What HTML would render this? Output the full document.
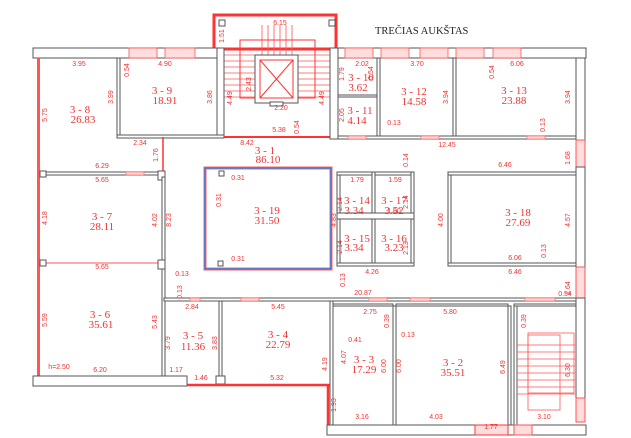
<!DOCTYPE html>
<html><head><meta charset="utf-8"><style>
html,body{margin:0;padding:0;background:#fff;width:631px;height:438px;overflow:hidden}
svg{display:block}
.w{fill:#fff;stroke:#555;stroke-width:1}
.r{stroke:#f33;fill:none;stroke-width:1}
.rt{fill:#e33;font-family:"Liberation Sans",sans-serif;font-size:7px;text-anchor:middle}
.nm{fill:#e33;font-family:"Liberation Serif",serif;font-size:11px;text-anchor:middle}
</style></head><body>
<svg width="631" height="438" viewBox="0 0 631 438" xmlns="http://www.w3.org/2000/svg">
<text x="375" y="34" font-family="Liberation Serif,serif" font-size="10.5" fill="#222">TREČIAS AUKŠTAS</text>

<rect x="214" y="15" width="122" height="34" fill="none" stroke="#f33" stroke-width="3"/>
<rect x="219" y="20" width="6" height="6" class="w"/><rect x="329" y="20" width="6" height="6" class="w"/>
<g stroke="#f55" stroke-width="0.8">
<line x1="262" y1="25" x2="262" y2="55"/><line x1="268" y1="25" x2="268" y2="55"/><line x1="274" y1="25" x2="274" y2="55"/><line x1="280" y1="25" x2="280" y2="55"/><line x1="286" y1="25" x2="286" y2="55"/><line x1="292" y1="25" x2="292" y2="55"/>
<line x1="224" y1="55" x2="255" y2="55"/><line x1="224" y1="61" x2="255" y2="61"/><line x1="224" y1="67" x2="255" y2="67"/><line x1="224" y1="73" x2="255" y2="73"/><line x1="224" y1="79" x2="255" y2="79"/><line x1="224" y1="85" x2="255" y2="85"/><line x1="224" y1="91" x2="255" y2="91"/><line x1="224" y1="97" x2="255" y2="97"/>
<line x1="298" y1="55" x2="330" y2="55"/><line x1="298" y1="61" x2="330" y2="61"/><line x1="298" y1="67" x2="330" y2="67"/><line x1="298" y1="73" x2="330" y2="73"/><line x1="298" y1="79" x2="330" y2="79"/><line x1="298" y1="85" x2="330" y2="85"/><line x1="298" y1="91" x2="330" y2="91"/><line x1="298" y1="97" x2="330" y2="97"/>
</g>
<rect x="240" y="40" width="75" height="58" class="r"/>
<rect x="255" y="55" width="43" height="48" class="w"/>
<rect x="260" y="60" width="33" height="38" class="r"/>
<line x1="260" y1="60" x2="293" y2="98" class="r"/><line x1="293" y1="60" x2="260" y2="98" class="r"/>
<rect x="270" y="102" width="13" height="4" class="w"/>

<rect x="33" y="48" width="191" height="10" class="w"/>
<rect x="129" y="48" width="28" height="10" fill="#fdd" stroke="#f55" stroke-width="0.8"/>
<rect x="165" y="48" width="30" height="10" fill="#fdd" stroke="#f55" stroke-width="0.8"/>
<rect x="217" y="48" width="7" height="89" class="w"/>
<rect x="37" y="58" width="3" height="318" fill="#f55"/>
<rect x="117" y="58" width="3" height="79" class="w"/>
<rect x="117" y="135" width="107" height="3" class="w"/>
<line x1="224" y1="137" x2="330" y2="137" stroke="#f33" stroke-width="2"/>
<line x1="163" y1="137" x2="163" y2="172" stroke="#f33" stroke-width="1.5"/>
<rect x="40" y="172" width="123" height="3" class="w"/>
<rect x="126" y="172" width="18" height="3" fill="#fdd" stroke="#f55" stroke-width="0.6"/>
<rect x="40" y="171" width="6" height="6" class="w"/><rect x="158" y="171" width="7" height="9" class="w"/>
<rect x="162" y="177" width="3" height="199" class="w"/>
<line x1="40" y1="263" x2="160" y2="263" stroke="#f55"/>
<rect x="40" y="260" width="6" height="6" class="w"/><rect x="158" y="260" width="7" height="9" class="w"/>
<rect x="164" y="298" width="412" height="3" class="w"/>
<rect x="190" y="298" width="10" height="3" fill="#fdd" stroke="#f55" stroke-width="0.6"/>
<rect x="241" y="298" width="18" height="3" fill="#fdd" stroke="#f55" stroke-width="0.6"/>
<rect x="369" y="298" width="18" height="3" fill="#fdd" stroke="#f55" stroke-width="0.6"/>
<rect x="410" y="298" width="20" height="3" fill="#fdd" stroke="#f55" stroke-width="0.6"/>
<rect x="525" y="298" width="30" height="3" fill="#fdd" stroke="#f55" stroke-width="0.6"/>
<rect x="219" y="301" width="3" height="75" class="w"/>
<rect x="216" y="376" width="9" height="8" class="w"/>
<rect x="33" y="376" width="154" height="10" class="w"/>
<line x1="187" y1="385" x2="330" y2="385" stroke="#f33" stroke-width="2.5"/>
<line x1="328" y1="385" x2="328" y2="425" stroke="#f33" stroke-width="2.5"/>

<rect x="205" y="168" width="126" height="101" fill="none" stroke="#f66" stroke-width="3"/>
<rect x="205" y="168" width="126" height="101" fill="none" stroke="#3c7fd8" stroke-width="1.5"/>
<rect x="219" y="171" width="5" height="5" class="w"/><rect x="218" y="261" width="5" height="5" class="w"/>

<rect x="330" y="48" width="256" height="10" class="w"/>
<rect x="345" y="48" width="28" height="10" fill="#fdd" stroke="#f55" stroke-width="0.8"/>
<rect x="381" y="48" width="28" height="10" fill="#fdd" stroke="#f55" stroke-width="0.8"/>
<rect x="420" y="48" width="28" height="10" fill="#fdd" stroke="#f55" stroke-width="0.8"/>
<rect x="456" y="48" width="28" height="10" fill="#fdd" stroke="#f55" stroke-width="0.8"/>
<rect x="493" y="48" width="28" height="10" fill="#fdd" stroke="#f55" stroke-width="0.8"/>
<rect x="330" y="48" width="8" height="91" class="w"/>
<rect x="576" y="58" width="9" height="82" class="w"/>
<rect x="576" y="140" width="9" height="27" fill="#fdd" stroke="#f55"/>
<rect x="576" y="167" width="9" height="100" class="w"/>
<rect x="576" y="267" width="9" height="31" fill="#fdd" stroke="#f55"/>
<rect x="576" y="298" width="9" height="100" class="w"/>
<rect x="576" y="398" width="9" height="24" fill="#fdd" stroke="#f55"/>
<rect x="338" y="136" width="238" height="3" class="w"/>
<rect x="348" y="136" width="18" height="3" fill="#fdd" stroke="#f55" stroke-width="0.6"/>
<rect x="421" y="136" width="18" height="3" fill="#fdd" stroke="#f55" stroke-width="0.6"/>
<rect x="527" y="136" width="18" height="3" fill="#fdd" stroke="#f55" stroke-width="0.6"/>
<rect x="377" y="58" width="3" height="78" class="w"/>
<rect x="453" y="58" width="3" height="78" class="w"/>
<rect x="338" y="95" width="39" height="2" class="w"/>
<rect x="337" y="172" width="3" height="94" class="w"/>
<rect x="337" y="172" width="77" height="3" class="w"/>
<rect x="372" y="172" width="3" height="94" class="w"/>
<rect x="411" y="172" width="3" height="94" class="w"/>
<rect x="337" y="213" width="77" height="6" class="w"/>
<rect x="337" y="263" width="77" height="3" class="w"/>
<rect x="448" y="172" width="3" height="94" class="w"/>
<rect x="448" y="172" width="128" height="3" class="w"/>
<rect x="448" y="263" width="128" height="3" class="w"/>
<rect x="330" y="301" width="3" height="124" class="w"/>
<rect x="393" y="306" width="3" height="119" class="w"/>
<rect x="508" y="306" width="3" height="119" class="w"/>
<rect x="333" y="304" width="60" height="2" class="w"/>
<rect x="396" y="304" width="112" height="2" class="w"/>
<rect x="514" y="304" width="62" height="2" class="w"/>
<rect x="514" y="306" width="3" height="119" class="w"/>
<rect x="327" y="425" width="259" height="10" class="w"/>
<rect x="475" y="425" width="33" height="10" fill="#fdd" stroke="#f33"/>
<rect x="514" y="425" width="18" height="10" fill="#fdd" stroke="#f55"/>
<g stroke="#f55" stroke-width="0.8">
<rect x="528" y="333" width="46" height="60" fill="none"/>
<rect x="528" y="335" width="32" height="75" fill="none"/>
<line x1="517" y1="345" x2="575" y2="345"/><line x1="517" y1="352" x2="575" y2="352"/><line x1="517" y1="359" x2="575" y2="359"/><line x1="517" y1="366" x2="575" y2="366"/><line x1="517" y1="373" x2="575" y2="373"/><line x1="517" y1="380" x2="575" y2="380"/><line x1="517" y1="387" x2="575" y2="387"/><line x1="517" y1="394" x2="575" y2="394"/>
</g>

<g class="nm">
<text x="162" y="94" class="nm">3 - 9</text><text x="165" y="104" class="nm">18.91</text>
<text x="80" y="113" class="nm">3 - 8</text><text x="83" y="123" class="nm">26.83</text>
<text x="265" y="154" class="nm">3 - 1</text><text x="268" y="163" class="nm">86.10</text>
<text x="267" y="214" class="nm">3 - 19</text><text x="267" y="224" class="nm">31.50</text>
<text x="361" y="81" class="nm">3 - 10</text><text x="358" y="91" class="nm">3.62</text>
<text x="360" y="114" class="nm">3 - 11</text><text x="357" y="124" class="nm">4.14</text>
<text x="414" y="95" class="nm">3 - 12</text><text x="414" y="105" class="nm">14.58</text>
<text x="514" y="94" class="nm">3 - 13</text><text x="514" y="104" class="nm">23.88</text>
<text x="357" y="204" class="nm">3 - 14</text><text x="354" y="214" class="nm">3.34</text>
<text x="394" y="204" class="nm">3 - 17</text><text x="394" y="214" class="nm">3.52</text>
<text x="518" y="216" class="nm">3 - 18</text><text x="518" y="226" class="nm">27.69</text>
<text x="357" y="242" class="nm">3 - 15</text><text x="354" y="251" class="nm">3.34</text>
<text x="394" y="242" class="nm">3 - 16</text><text x="394" y="251" class="nm">3.23</text>
<text x="102" y="220" class="nm">3 - 7</text><text x="102" y="230" class="nm">28.11</text>
<text x="100" y="318" class="nm">3 - 6</text><text x="101" y="328" class="nm">35.61</text>
<text x="193" y="339" class="nm">3 - 5</text><text x="193" y="350" class="nm">11.36</text>
<text x="278" y="338" class="nm">3 - 4</text><text x="278" y="348" class="nm">22.79</text>
<text x="364" y="363" class="nm">3 - 3</text><text x="364" y="373" class="nm">17.29</text>
<text x="453" y="366" class="nm">3 - 2</text><text x="453" y="376" class="nm">35.51</text>
</g>
<g class="rt">
<text x="79" y="66">3.95</text><text x="165" y="66">4.90</text><text x="280" y="25">6.15</text>
<text x="362" y="66">2.02</text><text x="417" y="66">3.70</text><text x="517" y="66">6.06</text>
<text x="281" y="110">2.20</text><text x="279" y="132">5.38</text><text x="247" y="145">8.42</text>
<text x="140" y="145">2.34</text><text x="102" y="168">6.29</text><text x="102" y="182">5.65</text>
<text x="102" y="269">5.65</text><text x="100" y="372">6.20</text><text x="59" y="369">h=2.50</text>
<text x="176" y="372">1.17</text><text x="201" y="380">1.46</text><text x="277" y="380">5.32</text>
<text x="192" y="309">2.84</text><text x="278" y="309">5.45</text>
<text x="447" y="147">12.45</text><text x="505" y="167">6.46</text><text x="357" y="182">1.79</text><text x="395" y="182">1.59</text>
<text x="394" y="213">1.80</text><text x="372" y="274">4.26</text><text x="515" y="274">6.46</text><text x="515" y="260">6.06</text>
<text x="363" y="295">20.87</text><text x="565" y="296">0.54</text><text x="370" y="314">2.75</text><text x="450" y="314">5.80</text>
<text x="362" y="419">3.16</text><text x="436" y="419">4.03</text><text x="491" y="429">1.77</text><text x="544" y="419">3.10</text>
<text x="238" y="180">0.31</text><text x="238" y="261">0.31</text><text x="355" y="342">0.41</text><text x="408" y="337">0.13</text>
<text x="182" y="276">0.13</text><text x="394" y="125">0.13</text>
</g>
<g class="rt">
<text transform="translate(47,115) rotate(-90)">5.75</text>
<text transform="translate(47,218) rotate(-90)">4.18</text>
<text transform="translate(47,320) rotate(-90)">5.59</text>
<text transform="translate(113,97) rotate(-90)">3.99</text>
<text transform="translate(212,97) rotate(-90)">3.86</text>
<text transform="translate(129,70) rotate(-90)">0.54</text>
<text transform="translate(158,155) rotate(-90)">1.76</text>
<text transform="translate(157,220) rotate(-90)">4.02</text>
<text transform="translate(171,220) rotate(-90)">8.23</text>
<text transform="translate(157,322) rotate(-90)">5.43</text>
<text transform="translate(170,343) rotate(-90)">3.79</text>
<text transform="translate(217,343) rotate(-90)">3.83</text>
<text transform="translate(224,36) rotate(-90)">1.51</text>
<text transform="translate(232,98) rotate(-90)">4.49</text>
<text transform="translate(251,84) rotate(-90)">2.43</text>
<text transform="translate(324,98) rotate(-90)">4.49</text>
<text transform="translate(299,127) rotate(-90)">0.54</text>
<text transform="translate(344,74) rotate(-90)">1.79</text>
<text transform="translate(373,73) rotate(-90)">0.54</text>
<text transform="translate(344,115) rotate(-90)">2.05</text>
<text transform="translate(448,97) rotate(-90)">3.94</text>
<text transform="translate(494,72) rotate(-90)">0.54</text>
<text transform="translate(570,97) rotate(-90)">3.94</text>
<text transform="translate(545,125) rotate(-90)">0.13</text>
<text transform="translate(570,158) rotate(-90)">1.68</text>
<text transform="translate(408,160) rotate(-90)">0.14</text>
<text transform="translate(342,204) rotate(-90)">2.14</text>
<text transform="translate(408,202) rotate(-90)">2.14</text>
<text transform="translate(342,247) rotate(-90)">2.14</text>
<text transform="translate(408,248) rotate(-90)">2.13</text>
<text transform="translate(336,220) rotate(-90)">4.83</text>
<text transform="translate(443,220) rotate(-90)">4.00</text>
<text transform="translate(570,220) rotate(-90)">4.57</text>
<text transform="translate(546,251) rotate(-90)">0.13</text>
<text transform="translate(570,288) rotate(-90)">1.64</text>
<text transform="translate(345,280) rotate(-90)">0.13</text>
<text transform="translate(221,200) rotate(-90)">0.31</text>
<text transform="translate(182,292) rotate(-90)">0.13</text>
<text transform="translate(327,364) rotate(-90)">4.19</text>
<text transform="translate(346,357) rotate(-90)">4.07</text>
<text transform="translate(386,366) rotate(-90)">6.00</text>
<text transform="translate(401,366) rotate(-90)">6.00</text>
<text transform="translate(505,367) rotate(-90)">6.49</text>
<text transform="translate(526,321) rotate(-90)">0.39</text>
<text transform="translate(389,321) rotate(-90)">0.39</text>
<text transform="translate(570,370) rotate(-90)">6.30</text>
<text transform="translate(336,405) rotate(-90)">1.93</text>
</g>
</svg>
</body></html>
